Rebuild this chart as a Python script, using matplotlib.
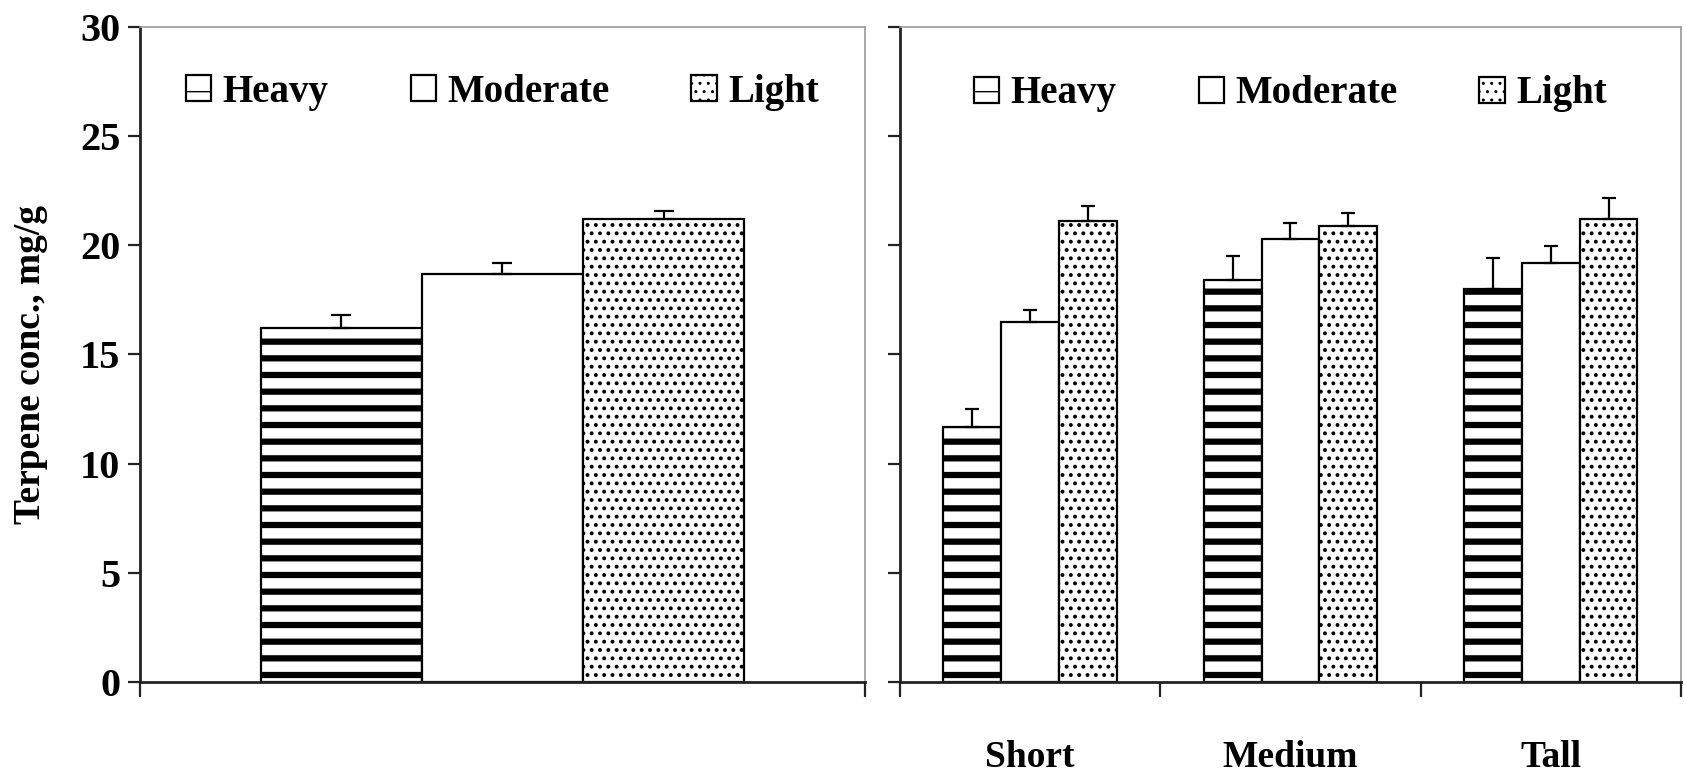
import matplotlib
matplotlib.use("Agg")
import matplotlib.pyplot as plt
import numpy as np

# data
levels = ["Heavy", "Moderate", "Light"]
overall_mean = [16.2, 18.7, 21.2]
overall_err = [0.6, 0.5, 0.35]

heights = ["Short", "Medium", "Tall"]
heavy_mean = [11.7, 18.4, 18.0]
heavy_err = [0.8, 1.1, 1.4]
moderate_mean = [16.5, 20.3, 19.2]
moderate_err = [0.55, 0.7, 0.75]
light_mean = [21.1, 20.9, 21.2]
light_err = [0.7, 0.6, 0.95]

hatches = ["-", "", ".."]
hatch_lw = [4.5, 1.0, 1.6]

plt.rcParams["font.family"] = ["Liberation Serif", "DejaVu Serif"]
plt.rcParams["font.weight"] = "bold"

fig = plt.figure(figsize=(16.84, 7.81), dpi=100)
ax1 = fig.add_axes([0.0831, 0.1268, 0.4305, 0.8387])
ax2 = fig.add_axes([0.5344, 0.1268, 0.4638, 0.8387])


def style_axes(ax):
    for s in ["left", "bottom"]:
        ax.spines[s].set_linewidth(2.0)
        ax.spines[s].set_color("#222222")
    for s in ["top", "right"]:
        ax.spines[s].set_linewidth(1.2)
        ax.spines[s].set_color("#9a9a9a")
    ax.set_ylim(0, 30)
    ax.set_yticks(np.arange(0, 31, 5))
    ax.tick_params(axis="y", direction="out", length=9, width=1.6, pad=5,
                   labelsize=29, color="#222222")
    ax.tick_params(axis="x", which="major", direction="out", length=11,
                   width=1.6, color="#222222", labelbottom=False)


def hbar(ax, x, h, w, err, i, cap):
    with plt.rc_context({"hatch.linewidth": hatch_lw[i]}):
        bars = ax.bar(x, h, w, color="white", edgecolor="black", linewidth=1.6,
                      hatch=hatches[i], label=levels[i], zorder=2)
    for b in bars:
        if hasattr(b, "set_hatch_linewidth"):
            b.set_hatch_linewidth(hatch_lw[i])
    ax.errorbar(x, h, yerr=[np.zeros(len(np.atleast_1d(h))), err], fmt="none",
                ecolor="black", elinewidth=1.6, capsize=cap, capthick=1.6, zorder=3)
    return bars


# left panel: overall by grazing level
for i in range(3):
    hbar(ax1, [i], [overall_mean[i]], 1.0, [overall_err[i]], i, 7)
ax1.set_xlim(-1.25, 3.25)
style_axes(ax1)
ax1.set_xticks([-1.25, 3.25])
ax1.set_ylabel("Terpene conc., mg/g", fontsize=27, fontweight="bold")
ax1.yaxis.set_label_coords(-0.127, 0.484)
ax1.legend(ncol=3, frameon=False, loc="center", bbox_to_anchor=(0.5, 0.9),
           fontsize=28, handlelength=0.65, handleheight=0.65, handletextpad=0.3,
           columnspacing=2.1)

# right panel: by plant height
centers = np.arange(len(heights)) + 0.5
w = 0.222
series = [(heavy_mean, heavy_err), (moderate_mean, moderate_err), (light_mean, light_err)]
for i, (m, e) in enumerate(series):
    hbar(ax2, centers + (i - 1) * w, m, w, e, i, 5)
ax2.set_xlim(0, 3)
style_axes(ax2)
ax2.set_xticks([0, 1, 2, 3])
ax2.set_xticks(centers, heights, minor=True)
ax2.tick_params(axis="x", which="minor", length=0, pad=42, labelsize=27)
ax2.tick_params(axis="y", labelleft=False)
ax2.legend(ncol=3, frameon=False, loc="center", bbox_to_anchor=(0.5, 0.898),
           fontsize=28, handlelength=0.65, handleheight=0.65, handletextpad=0.3,
           columnspacing=2.1)

fig.savefig("out.png", dpi=100)
